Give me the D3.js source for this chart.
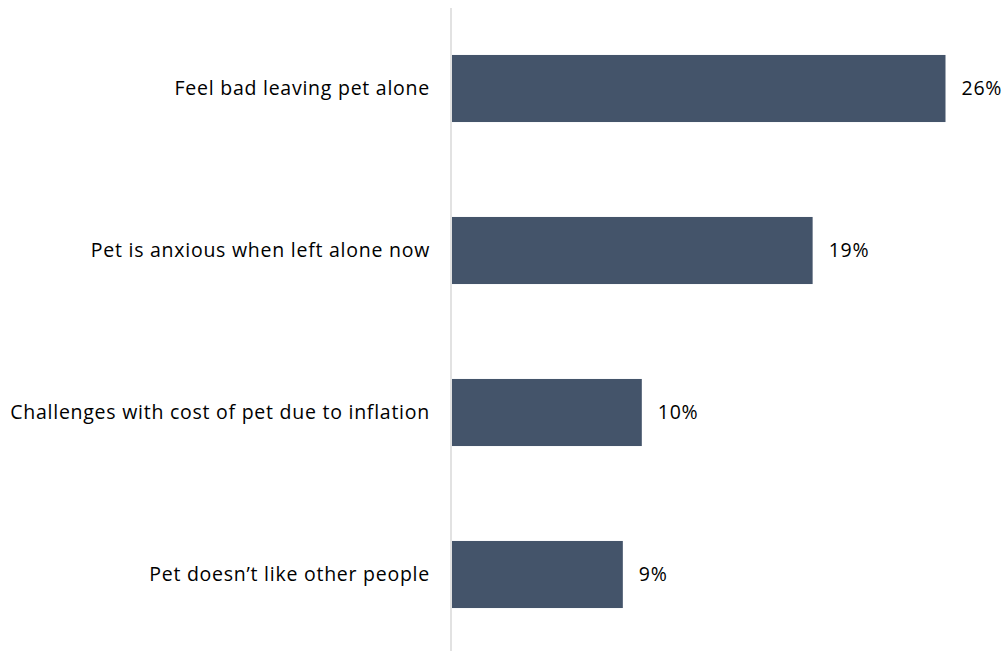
<!DOCTYPE html>
<html>
<head>
<meta charset="utf-8">
<script src="https://cdn.jsdelivr.net/npm/d3@7"></script>
<style>
  html, body { margin: 0; padding: 0; background: #ffffff; }
  svg { display: block; }
  text { font-family: "Open Sans", "Liberation Sans", Arial, sans-serif; fill: #000000; letter-spacing: 0.75px; }
</style>
</head>
<body>
<svg id="chart" width="1006" height="652"></svg>
<script>
const categories = [
  "Feel bad leaving pet alone",
  "Pet is anxious when left alone now",
  "Challenges with cost of pet due to inflation",
  "Pet doesn\u2019t like other people"
];
const values = [26, 19, 10, 9];
const valueLabels = ["26%", "19%", "10%", "9%"];

const svg = d3.select("#chart");
const x0 = 452;
const x = d3.scaleLinear().domain([0, 26]).range([x0, 945.5]);
const y = d3.scaleBand().domain(categories).range([7.5, 655.5]).paddingInner(0.586).paddingOuter(0.293);

// axis line
svg.append("line")
  .attr("x1", 451).attr("x2", 451)
  .attr("y1", 8).attr("y2", 651)
  .attr("stroke", "#d9d9d9").attr("stroke-width", 1.5);

svg.selectAll("rect.bar")
  .data(values)
  .join("rect")
  .attr("class", "bar")
  .attr("x", x(0))
  .attr("y", (d, i) => y(categories[i]))
  .attr("width", d => x(d) - x(0))
  .attr("height", y.bandwidth())
  .attr("fill", "#44546a");

svg.selectAll("text.cat")
  .data(categories)
  .join("text")
  .attr("class", "cat")
  .attr("x", 430)
  .attr("y", d => y(d) + y.bandwidth() / 2)
  .attr("dy", "0.35em")
  .attr("text-anchor", "end")
  .style("font-size", "19.5px")
  .text(d => d);

svg.selectAll("text.val")
  .data(values)
  .join("text")
  .attr("class", "val")
  .attr("x", d => x(d) + 16)
  .attr("y", (d, i) => y(categories[i]) + y.bandwidth() / 2)
  .attr("dy", "0.35em")
  .attr("text-anchor", "start")
  .style("font-size", "19.5px")
  .text((d, i) => valueLabels[i]);
</script>
</body>
</html>
